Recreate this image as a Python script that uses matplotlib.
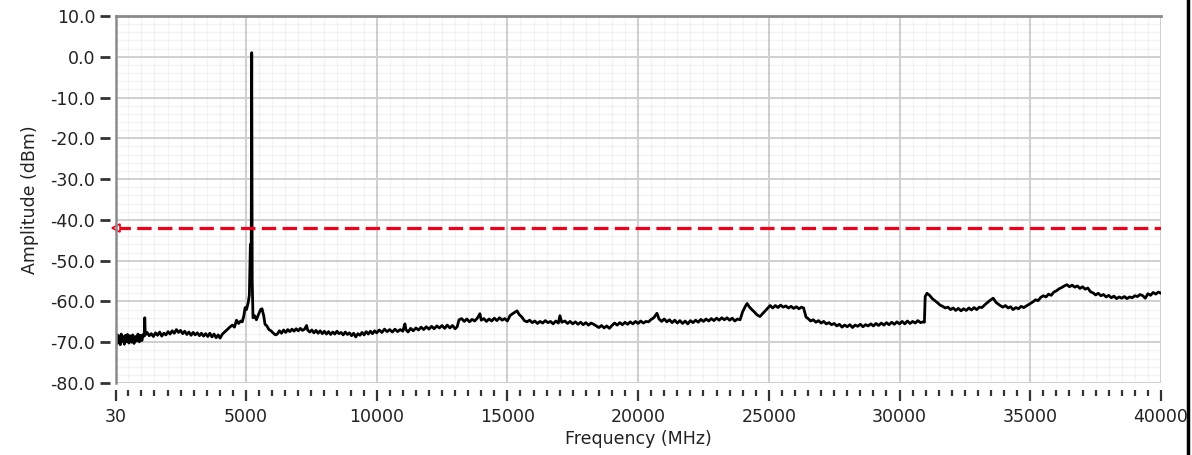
import matplotlib
matplotlib.use("Agg")
import matplotlib.pyplot as plt
from matplotlib.ticker import MultipleLocator, FixedLocator, FormatStrFormatter
from matplotlib.lines import Line2D

# spectrum trace (MHz, dBm)
freq_mhz = [
    30, 60, 90, 120, 150, 190, 230, 270, 310, 350, 390, 430, 470, 520, 570, 620, 670, 720, 770, 820,
    870, 920, 970, 1020, 1070, 1110, 1130, 1150,
    1220, 1300, 1380, 1460, 1540, 1620, 1700, 1780, 1860, 1940, 2020, 2100, 2180, 2260, 2340, 2420,
    2500, 2580, 2660, 2740, 2820, 2900, 2980, 3060, 3140, 3220, 3300, 3380, 3460, 3540, 3620, 3700,
    3780, 3860, 3940, 4010,
    4100, 4200, 4300, 4400, 4480, 4560, 4640, 4720, 4800, 4860, 4920, 4970, 5020, 5080, 5130, 5170,
    5200, 5221, 5240, 5270, 5330, 5400, 5480, 5560, 5615, 5680, 5730, 5800, 5880, 5960, 6050, 6130,
    6200, 6280, 6360, 6440, 6520, 6600, 6680, 6760, 6840, 6920, 7000, 7080, 7160, 7240, 7320, 7360,
    7440, 7520, 7600, 7680, 7760, 7840, 7920, 8000, 8080, 8160, 8240, 8320, 8400, 8480, 8560, 8640,
    8720, 8800, 8880, 8960, 9040, 9120, 9200, 9280, 9360, 9440, 9520, 9600, 9680, 9760, 9840, 9920,
    10000, 10100, 10200, 10300, 10400, 10500, 10600, 10700, 10800, 10900, 11000, 11080, 11120, 11200,
    11300, 11400, 11500, 11600, 11700, 11800, 11900, 12000, 12100, 12200, 12300, 12400, 12500, 12600,
    12700, 12800, 12900, 13000, 13080, 13150, 13250, 13350, 13450, 13550, 13650, 13750, 13850, 13950,
    14000, 14100, 14200, 14300, 14400, 14500, 14600, 14700, 14800, 14900, 15000, 15100, 15200, 15370,
    15450, 15550, 15650, 15750, 15850, 15950, 16050, 16150, 16250, 16350, 16450, 16550, 16650, 16750,
    16850, 16950, 17010, 17080, 17200, 17300, 17400, 17500, 17600, 17700, 17800, 17900, 18000, 18100,
    18200, 18300, 18400, 18500, 18600, 18700, 18800, 18900, 19000, 19100, 19200, 19300, 19400, 19500,
    19600, 19700, 19800, 19900, 20000, 20100, 20200, 20300, 20400, 20500, 20600, 20720, 20800, 20900,
    21000, 21100, 21200, 21300, 21400, 21500, 21600, 21700, 21800, 21900, 22000, 22100, 22200, 22300,
    22400, 22500, 22600, 22700, 22800, 22900, 23000, 23100, 23200, 23300, 23400, 23500, 23600, 23700,
    23800, 23900, 24000, 24100, 24170, 24250, 24350, 24450, 24550, 24660, 24760, 24860, 24960, 25050,
    25150, 25250, 25350, 25450, 25550, 25650, 25750, 25850, 25950, 26050, 26150, 26250, 26330, 26420,
    26500, 26600, 26700, 26800, 26900, 27000, 27100, 27200, 27300, 27400, 27500, 27600, 27700, 27800,
    27900, 28000, 28100, 28200, 28300, 28400, 28500, 28600, 28700, 28800, 28900, 29000, 29100, 29200,
    29300, 29400, 29500, 29600, 29700, 29800, 29900, 30000, 30100, 30200, 30300, 30400, 30500, 30600,
    30700, 30800, 30900, 30950, 30980, 31050, 31150, 31250, 31350, 31450, 31550, 31650, 31750, 31850,
    31950, 32050, 32150, 32250, 32350, 32450, 32550, 32650, 32750, 32850, 32950, 33050, 33150, 33300,
    33450, 33580, 33700, 33850, 33950, 34050, 34150, 34250, 34340, 34450, 34550, 34650, 34750, 34880,
    34980, 35100, 35200, 35300, 35400, 35500, 35600, 35700, 35800, 35900, 36000, 36100, 36200, 36300,
    36400, 36500, 36600, 36700, 36800, 36900, 37000, 37100, 37200, 37300, 37400, 37500, 37600, 37700,
    37800, 37900, 38000, 38100, 38200, 38300, 38400, 38500, 38600, 38700, 38800, 38900, 39000, 39100,
    39200, 39300, 39400, 39500, 39600, 39700, 39800, 39900, 40000,
]
level_dbm = [
    -69.0, -70.4, -68.2, -70.1, -68.5, -70.6, -68.0, -69.8, -68.6, -70.5, -68.3, -69.9, -68.1, -70.2, -68.4, -70.0, -68.2, -70.3, -68.6, -69.7,
    -68.0, -69.9, -68.3, -69.6, -68.1, -68.5, -64.0, -68.2,
    -67.6, -68.4, -67.9, -68.6, -67.7, -68.3, -67.5, -68.5, -67.8, -68.2, -67.4, -68.0, -67.2, -67.8, -66.9, -67.6,
    -67.1, -67.9, -67.3, -68.1, -67.5, -68.3, -67.6, -68.2, -67.7, -68.4, -67.8, -68.5, -67.9, -68.6, -67.8, -68.7,
    -68.0, -68.9, -68.2, -69.0,
    -68.0, -67.4, -66.8, -66.2, -65.8, -66.3, -64.6, -65.4, -64.8, -65.0, -63.5, -61.5, -62.0, -60.5, -58.5, -46.0,
    -52.0, 1.0, -55.0, -64.0, -63.5, -64.5, -63.2, -62.0, -61.8, -63.5, -65.6, -66.0, -66.9, -67.2, -67.8, -68.2,
    -68.0, -67.2, -67.8, -67.0, -67.6, -66.9, -67.4, -66.8, -67.3, -66.7, -67.2, -66.6, -67.1, -66.8, -65.9, -67.0,
    -67.5, -67.0, -67.7, -67.1, -67.8, -67.2, -67.9, -67.3, -68.0, -67.4, -68.1, -67.5, -68.0, -67.3, -67.9, -67.6,
    -68.2, -67.5, -68.1, -67.7, -68.4, -67.8, -68.7, -67.9, -68.3, -67.6, -68.2, -67.4, -68.0, -67.3, -67.9, -67.2,
    -67.7, -67.0, -67.6, -66.8, -67.4, -66.9, -67.5, -66.8, -67.4, -66.9, -67.3, -65.5, -66.9, -67.5,
    -66.6, -67.2, -66.5, -67.0, -66.3, -66.9, -66.2, -66.8, -66.1, -66.7, -66.0, -66.5, -65.9, -66.6,
    -65.8, -66.5, -65.9, -66.7, -66.2, -64.5, -64.2, -64.9, -64.3, -65.0, -64.4, -64.8, -64.1, -63.0,
    -64.6, -64.2, -64.9, -64.3, -64.8, -64.1, -64.7, -64.0, -64.6, -64.2, -64.8, -63.5, -63.0, -62.3,
    -63.2, -63.8, -64.7, -65.0, -64.6, -65.2, -64.8, -65.4, -64.9, -65.3, -64.7, -65.2, -64.9, -65.5,
    -64.8, -65.3, -63.5, -65.1, -64.8, -65.4, -64.9, -65.5, -65.0, -65.6, -65.1, -65.7, -65.2, -65.8,
    -65.3, -65.6, -66.0, -66.4, -65.9, -66.5, -66.0, -66.6, -65.9, -65.3, -65.8, -65.2, -65.7, -65.1,
    -65.6, -65.0, -65.5, -64.9, -65.4, -64.8, -65.3, -64.9, -65.0, -64.4, -64.0, -62.9, -64.3, -64.9,
    -64.3, -65.0, -64.5, -65.2, -64.6, -65.3, -64.7, -65.4, -64.8, -65.5, -64.7, -65.2, -64.6, -65.1,
    -64.4, -64.9, -64.3, -64.8, -64.2, -64.7, -64.1, -64.6, -64.0, -64.5, -64.0, -64.6, -64.1, -64.8,
    -64.3, -64.5, -62.5, -61.2, -60.5, -61.3, -62.0, -62.6, -63.3, -63.7, -63.0, -62.3, -61.6, -61.0,
    -61.6, -61.0, -61.5, -60.9, -61.4, -61.1, -61.6, -61.2, -61.7, -61.3, -61.8, -61.4, -61.6, -63.8,
    -64.2, -64.8, -64.5, -65.1, -64.7, -65.3, -64.9, -65.5, -65.2, -65.7, -65.4, -66.0, -65.6, -66.3,
    -65.8, -66.2, -65.7, -66.4, -65.8, -66.1, -65.6, -66.2, -65.7, -66.0, -65.5, -66.0, -65.4, -65.9,
    -65.3, -65.8, -65.2, -65.7, -65.1, -65.6, -65.0, -65.5, -64.9, -65.5, -64.8, -65.4, -64.9, -65.3,
    -64.7, -65.2, -65.0, -65.1, -58.8, -58.0, -58.5, -59.3, -59.8, -60.3, -60.9, -61.2, -61.6, -61.4,
    -62.0, -61.6, -62.2, -61.7, -62.3, -61.8, -62.2, -61.6, -62.1, -61.5, -62.0, -61.4, -61.5, -60.6,
    -59.8, -59.2, -60.3, -61.0, -61.4, -61.0, -61.6, -61.3, -62.0, -61.5, -61.8, -61.2, -61.5, -61.0,
    -60.6, -60.1, -59.6, -59.8, -59.0, -58.6, -58.9, -58.2, -58.5, -57.7, -57.4, -56.9, -56.6, -56.2,
    -55.9, -56.4, -56.0, -56.5, -56.2, -56.8, -56.4, -57.0, -56.7, -57.6, -57.9, -58.4, -58.0, -58.6,
    -58.3, -58.9, -58.5, -59.1, -58.7, -59.3, -58.9, -59.2, -58.8, -59.3, -58.9, -59.1, -58.6, -58.8,
    -58.3, -58.6, -59.2, -58.1, -58.5, -57.8, -58.2, -57.7, -58.0,
]

limit_dbm = -42.0
x_range = [30, 40000]
y_range = [-80, 10]
x_major = [30, 5000, 10000, 15000, 20000, 25000, 30000, 35000, 40000]

plt.rcParams['axes.unicode_minus'] = False
plt.rcParams['font.family'] = 'DejaVu Sans'

fig = plt.figure(figsize=(11.92, 4.55), dpi=100)
ax = fig.add_axes([116/1192, 1 - 383/455, (1161-116)/1192, (383-16)/455])

ax.plot(freq_mhz, level_dbm, color='black', linewidth=2.0, zorder=3)
ax.axhline(limit_dbm, color='#f0001a', linewidth=2.3, dashes=(4.5, 2.0), zorder=4)
ax.plot([x_range[0]], [limit_dbm], marker='<', markersize=6, markerfacecolor='white',
        markeredgecolor='#f0001a', markeredgewidth=1.2, clip_on=False, zorder=5)

ax.set_xlim(x_range)
ax.set_ylim(y_range)

ax.xaxis.set_major_locator(FixedLocator(x_major))
ax.xaxis.set_minor_locator(MultipleLocator(500))
ax.yaxis.set_major_locator(MultipleLocator(10))
ax.yaxis.set_minor_locator(MultipleLocator(2))
ax.yaxis.set_major_formatter(FormatStrFormatter('%.1f'))

ax.grid(True, which='major', color='#cfcfcf', linewidth=1.4)
ax.grid(True, which='minor', color=(0, 0, 0, 0.045), linewidth=1.0)
ax.set_axisbelow(True)

ax.spines['right'].set_visible(False)
ax.spines['top'].set_color('#8a8a8a')
ax.spines['top'].set_linewidth(2)
ax.spines['bottom'].set_position(('outward', 5))
ax.spines['bottom'].set_color('none')
ax.spines['left'].set_position(('outward', 4))
ax.spines['left'].set_color('none')
ax.plot([0, 0], [0, 1], transform=ax.transAxes, color='#8a8a8a', linewidth=1.8,
        clip_on=False, zorder=6)

ax.tick_params(axis='y', which='major', length=7, width=2, color='#333333',
               labelsize=12.5, labelcolor='#222222', pad=4)
ax.tick_params(axis='y', which='minor', length=0)
ax.tick_params(axis='x', which='major', length=8, width=1.6, color='#333333',
               labelsize=12.5, labelcolor='#222222', pad=5)
ax.tick_params(axis='x', which='minor', length=4, width=1.6, color='#333333')

ax.set_xlabel('Frequency (MHz)', fontsize=12.5, color='#222222', labelpad=3)
ax.set_ylabel('Amplitude (dBm)', fontsize=12.5, color='#222222', labelpad=8)

# right-hand window border of the screenshot
fig.add_artist(Line2D([1188/1192, 1188/1192], [0, 1], color='black', linewidth=2.5))

fig.savefig('out.png', dpi=100)
